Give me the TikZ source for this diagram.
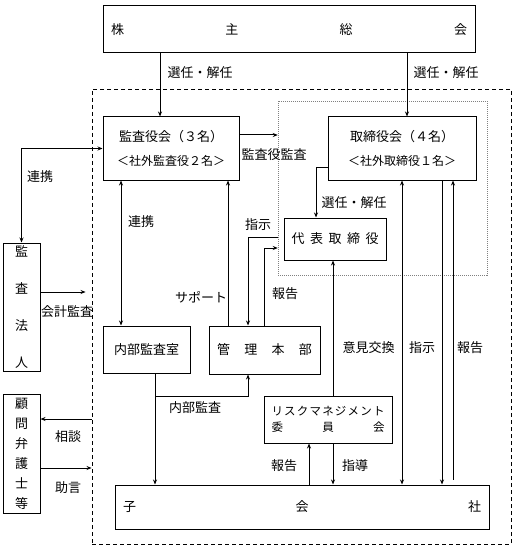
\documentclass[tikz,border=0pt]{standalone}
\usepackage{fontspec}
\setmainfont{Noto Sans CJK JP}
\usetikzlibrary{arrows.meta}

\begin{document}
\begin{tikzpicture}[x=1pt, y=-1pt, >={Stealth[length=5pt, width=4pt]}, line width=1pt,
  boite/.style={draw, inner sep=0pt, font=\fontsize{13}{16}\selectfont},
  etiq/.style={inner sep=0pt, font=\fontsize{13}{16}\selectfont}]

  \useasboundingbox (0,0) rectangle (515,548);

  % === POSITIONS DES LIGNES VERTICALES (px) ===
  \pgfmathsetmacro{\xSelA}{160}   % vers kansa
  \pgfmathsetmacro{\xSelB}{407}   % vers tori
  \pgfmathsetmacro{\xRen}{121}    % kansa <-> naibu
  \pgfmathsetmacro{\xSup}{228}    % sapoto
  \pgfmathsetmacro{\xShi}{248}    % shiji -> kanri
  \pgfmathsetmacro{\xHou}{264}    % houkoku -> daihyo
  \pgfmathsetmacro{\xNai}{155}    % naibu kansa
  \pgfmathsetmacro{\xRk}{333}     % risk / daihyo
  \pgfmathsetmacro{\xRh}{309}     % houkoku -> risk

  % === CADRES ===
  \node[draw, line width=0.9pt, dash pattern=on 4pt off 3pt, minimum width=419pt, minimum height=455pt, inner sep=0pt] (cadre) at (301.5,316.5) {};
  \node[draw=gray, line width=0.5pt, dash pattern=on 1pt off 1pt, minimum width=209pt, minimum height=174pt, inner sep=0pt] (groupe) at (382.5,188) {};

  % === BOITES ===
  \node[boite, minimum width=372pt, minimum height=47pt, text width=356pt, align=left] (kabu) at (289,29.5) {株\hfill 主\hfill 総\hfill 会};
  \node[boite, minimum width=136pt, minimum height=63pt, align=center, font=\fontsize{13}{24}\selectfont] (kansa) at (171,148.5)
    {監査役会（３名）\\{\fontsize{12}{24}\selectfont ＜社外監査役２名＞}};
  \node[boite, minimum width=148pt, minimum height=63pt, align=center, font=\fontsize{13}{24}\selectfont] (tori) at (402,148.5)
    {取締役会（４名）\\{\fontsize{12}{24}\selectfont ＜社外取締役１名＞}};
  \node[boite, minimum width=102pt, minimum height=42pt, text width=87pt, align=left] (daihyo) at (335,239) {代\hfill 表\hfill 取\hfill 締\hfill 役};
  \node[boite, minimum width=87pt, minimum height=47pt] (naibu) at (146.5,349.5) {内部監査室};
  \node[boite, minimum width=111pt, minimum height=48pt, text width=95pt, align=left] (kanri) at (264.5,350) {管\hfill 理\hfill 本\hfill 部};
  \node[boite, minimum width=128pt, minimum height=47pt, text width=113pt, align=left, font=\fontsize{11.5}{16}\selectfont] (risk) at (328,419.5)
    {リ\hfill ス\hfill ク\hfill マ\hfill ネ\hfill ジ\hfill メ\hfill ン\hfill ト\\委\hfill 員\hfill 会};
  \node[boite, minimum width=374pt, minimum height=44pt, text width=358pt, align=left] (kogaisha) at (302,507) {子\hfill 会\hfill 社};

  % Externes (texte vertical)
  \node[boite, minimum width=37pt, minimum height=128pt, align=center, font=\fontsize{13}{37}\selectfont] (kansahojin) at (21.5,307) {監\\査\\法\\人};
  \node[boite, minimum width=37pt, minimum height=119pt, align=center, font=\fontsize{13}{20}\selectfont] (komon) at (21.5,453.5) {顧\\問\\弁\\護\\士\\等};

  % === SELECTION PAR LES ACTIONNAIRES ===
  \draw[->] (\xSelA,0 |- kabu.south) -- (\xSelA,0 |- kansa.north);
  \draw[->] (\xSelB,0 |- kabu.south) -- (\xSelB,0 |- tori.north);
  \node[etiq] (lselA) at (200,72.5) {選任・解任};
  \node[etiq] (lselB) at (446,72.5) {選任・解任};

  % === AUDIT / DIRECTION ===
  \draw[->] (kansa.east |- 0,135) -- (groupe.west |- 0,135);
  \node[etiq] (laudit) at (274,155) {監査役監査};

  \draw[->] (tori.west |- 0,168) -| (316,0 |- daihyo.north);
  \node[etiq] (lselC) at (354,202.5) {選任・解任};

  \draw[<->] (\xRen,0 |- kansa.south) -- (\xRen,0 |- naibu.north);
  \node[etiq] (lrenA) at (141,222) {連携};

  \draw[->] (\xSup,0 |- kanri.north) -- (\xSup,0 |- kansa.south);
  \node[etiq] (lsup) at (201,297) {サポート};

  \draw[->] (groupe.west |- 0,237) -| (\xShi,0 |- kanri.north);
  \node[etiq] (lshiA) at (258,225) {指示};

  \draw[->] (\xHou,0 |- kanri.north) |- (groupe.west |- 0,248);
  \node[etiq] (lhouA) at (285,294) {報告};

  % === AUDIT INTERNE ===
  \coordinate (bifur) at (\xNai,396);
  \draw[->] (\xNai,0 |- naibu.south) -- (\xNai,0 |- kogaisha.north);
  \draw[->] (bifur) -| (\xShi,0 |- kanri.south);
  \node[etiq] (lnaibu) at (195,408) {内部監査};

  % === COMITE DES RISQUES ===
  \draw[->] (\xRk,0 |- risk.north) -- (\xRk,0 |- daihyo.south);
  \node[etiq] (liken) at (368.5,347.5) {意見交換};
  \draw[->] (\xRh,0 |- kogaisha.north) -- (\xRh,0 |- risk.south);
  \draw[->] (\xRk,0 |- risk.south) -- (\xRk,0 |- kogaisha.north);
  \node[etiq] (lhouB) at (284,466) {報告};
  \node[etiq] (lshido) at (355,466) {指導};

  % === CONSEIL <-> FILIALES ===
  \draw[<->] (402,0 |- tori.south) -- (402,0 |- kogaisha.north);
  \draw[->] (442,0 |- tori.south) -- (442,0 |- kogaisha.north);
  \draw[->, shorten <=5pt] (453,0 |- kogaisha.north) -- (453,0 |- tori.south);
  \node[etiq] (lshiB) at (422,347.5) {指示};
  \node[etiq] (lhouC) at (470,347.5) {報告};

  % === EXTERNES ===
  \draw[<->] (kansa.west) -| (kansahojin.north);
  \node[etiq] (lrenB) at (40,177) {連携};
  \draw[->, shorten >=6pt] (kansahojin.east |- 0,292) -- (cadre.west |- 0,292);
  \node[etiq] (lkaikei) at (67,312) {会計監査};
  \draw[->] (cadre.west |- 0,419) -- (komon.east |- 0,419);
  \node[etiq] (lsoudan) at (68,437) {相談};
  \draw[->] (komon.east |- 0,468) -- (cadre.west |- 0,468);
  \node[etiq] (ljogen) at (68,488) {助言};

\end{tikzpicture}
\end{document}
